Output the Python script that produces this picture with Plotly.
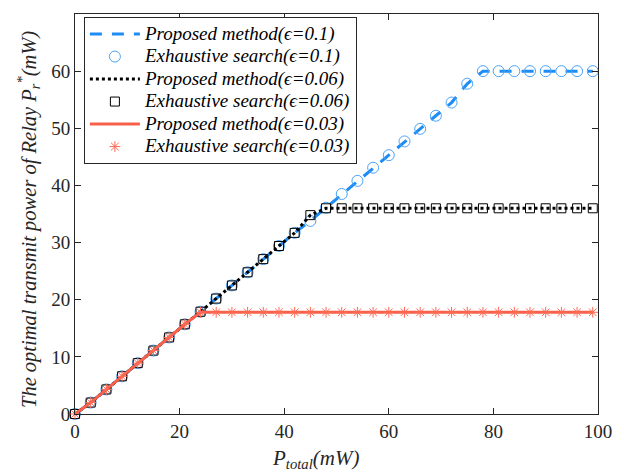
import plotly.graph_objects as go

# Data
p_total = [0, 3, 6, 9, 12, 15, 18, 21, 24, 27, 30, 33, 36, 39, 42, 45, 48, 51, 54, 57,
           60, 63, 66, 69, 72, 75, 78, 81, 84, 87, 90, 93, 96, 99]

pr_eps01 = [0, 2.0, 4.3, 6.6, 8.9, 11.1, 13.4, 15.7, 17.9, 20.2, 22.5, 24.8, 27.1, 29.4, 31.7,
            33.8, 36.1, 38.5, 40.8, 43.1, 45.3, 47.7, 49.9, 52.2, 54.5, 57.8, 60, 60, 60, 60,
            60, 60, 60, 60]
pr_eps006 = [0, 2.0, 4.3, 6.6, 8.9, 11.1, 13.4, 15.7, 17.9, 20.2, 22.5, 24.8, 27.1, 29.4, 31.7,
             34.8, 36, 36, 36, 36, 36, 36, 36, 36, 36, 36, 36, 36, 36, 36, 36, 36, 36, 36]
pr_eps003 = [0, 2.0, 4.3, 6.6, 8.9, 11.1, 13.4, 15.7, 17.8, 17.8, 17.8, 17.8, 17.8, 17.8, 17.8,
             17.8, 17.8, 17.8, 17.8, 17.8, 17.8, 17.8, 17.8, 17.8, 17.8, 17.8, 17.8, 17.8, 17.8,
             17.8, 17.8, 17.8, 17.8, 17.8]

names = [
    "Proposed method(ϵ=0.1)", "Exhaustive search(ϵ=0.1)",
    "Proposed method(ϵ=0.06)", "Exhaustive search(ϵ=0.06)",
    "Proposed method(ϵ=0.03)", "Exhaustive search(ϵ=0.03)",
]
x_title = "<i>P<sub>total</sub>(mW)</i>"
y_title = "<i>The optimal transmit power of Relay P<sub>r</sub><sup>*</sup>(mW)</i>"


def lg(t):
    return "<span style='font-size:19px'><i>" + t + "</i></span>"


blue = "#1e8cf5"
blue_m = "#4aa3f7"
red = "#f9604a"
red_m = "#ff6a55"

fig = go.Figure()
fig.add_trace(go.Scatter(x=p_total, y=pr_eps01, mode="lines", name=lg(names[0]),
                         line=dict(color=blue, width=3, dash="12px,10px"), cliponaxis=False))
fig.add_trace(go.Scatter(x=p_total, y=pr_eps01, mode="markers", name=lg(names[1]),
                         marker=dict(symbol="circle-open", size=11, color=blue_m, line=dict(width=1)),
                         cliponaxis=False))
fig.add_trace(go.Scatter(x=p_total, y=pr_eps006, mode="lines", name=lg(names[2]),
                         line=dict(color="black", width=3, dash="dot"), cliponaxis=False))
fig.add_trace(go.Scatter(x=p_total, y=pr_eps006, mode="markers", name=lg(names[3]),
                         marker=dict(symbol="square-open", size=9, color="black", line=dict(width=1)),
                         cliponaxis=False))
fig.add_trace(go.Scatter(x=p_total, y=pr_eps003, mode="lines", name=lg(names[4]),
                         line=dict(color=red, width=3), cliponaxis=False))
fig.add_trace(go.Scatter(x=p_total, y=pr_eps003, mode="markers", name=lg(names[5]),
                         marker=dict(symbol="asterisk-open", size=9, color=red_m, line=dict(width=1, color=red_m)),
                         cliponaxis=False))

axis_common = dict(
    showgrid=False, zeroline=False, showline=True, linecolor="#262626", linewidth=1,
    mirror="allticks", ticks="inside", ticklen=6, tickcolor="#262626", automargin=False,
    tickfont=dict(family="Liberation Serif", size=19, color="#262626"),
)

fig.update_layout(
    width=616, height=468,
    margin=dict(l=67, r=26, t=6, b=62),
    paper_bgcolor="white", plot_bgcolor="white",
    font=dict(family="Liberation Serif", color="#262626"),
    xaxis=dict(range=[0, 100], tickvals=[0, 20, 40, 60, 80, 100], **axis_common),
    yaxis=dict(range=[0, 70], tickvals=[0, 10, 20, 30, 40, 50, 60, 70], **axis_common),
    legend=dict(x=0.017, y=0.993, xanchor="left", yanchor="top",
                bgcolor="white", bordercolor="#262626", borderwidth=1,
                font=dict(family="Liberation Serif", size=15, color="black"),
                itemwidth=50, tracegroupgap=0),
    showlegend=True,
    annotations=[
        dict(text=x_title, xref="paper", yref="paper", x=0.46, y=0, xanchor="center",
             yanchor="middle", yshift=-45, showarrow=False,
             font=dict(family="Liberation Serif", size=21, color="#262626")),
        dict(text=y_title, xref="paper", yref="paper", x=0, y=0.5, xanchor="center",
             yanchor="middle", xshift=-47, yshift=-6, textangle=-90, showarrow=False,
             font=dict(family="Liberation Serif", size=20.5, color="#262626")),
    ],
)

fig.write_html("out.html")
